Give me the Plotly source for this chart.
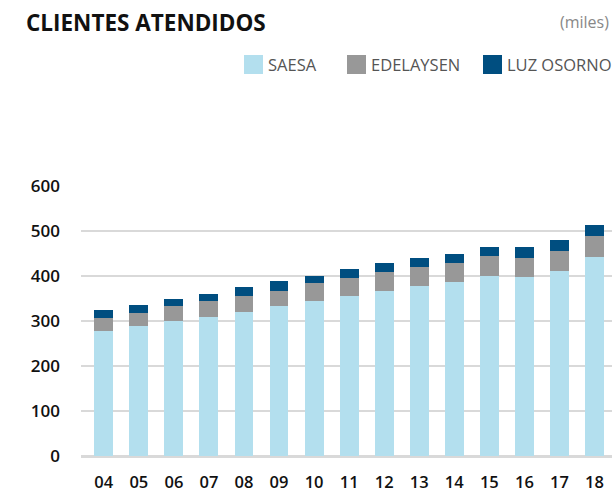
import plotly.graph_objects as go

years = ["04", "05", "06", "07", "08", "09", "10", "11", "12", "13", "14", "15", "16", "17", "18"]
saesa = [278, 289, 299, 310, 319, 333, 344, 355, 366, 377, 387, 400, 398, 411, 442]
edelaysen = [29, 29, 34, 34, 36, 33, 40, 40, 42, 42, 42, 44, 42, 45, 47]
luz_osorno = [17, 18, 17, 17, 20, 22, 17, 20, 20, 21, 20, 20, 24, 24, 24]
y_ticks = [0, 100, 200, 300, 400, 500, 600]

series_names = ["SAESA", "EDELAYSEN", "LUZ OSORNO"]
series_colors = ["#b3dfee", "#989898", "#004e80"]
series_values = [saesa, edelaysen, luz_osorno]

W, H = 612, 492
ML, MR, MT, MB = 81, 0, 186, 36
PW, PH = W - ML - MR, H - MT - MB


def px(x):
    return (x - ML) / PW


def py(y):
    return (H - MB - y) / PH


fig = go.Figure()
for name, vals, color in zip(series_names, series_values, series_colors):
    fig.add_trace(go.Bar(x=list(range(len(years))), y=vals, name=name,
                         marker=dict(color=color, line=dict(width=0)), width=0.54,
                         showlegend=False))

# custom legend (swatches + labels)
shapes = []
annotations = []
legend_x = [244, 347, 483]
for lx, name, color in zip(legend_x, series_names, series_colors):
    shapes.append(dict(type="rect", xref="paper", yref="paper",
                       x0=px(lx), x1=px(lx + 19), y0=py(74), y1=py(55),
                       fillcolor=color, line=dict(width=0)))
    annotations.append(dict(text=name, xref="paper", yref="paper",
                            x=px(lx + 22), y=py(65), xanchor="left", yanchor="middle",
                            showarrow=False,
                            font=dict(family="Open Sans", size=16.5, color="#555555")))

annotations.append(dict(text="CLIENTES ATENDIDOS", xref="paper", yref="paper",
                        x=px(24), y=py(22), xanchor="left", yanchor="middle",
                        showarrow=False,
                        font=dict(family="Open Sans", size=22.5, color="#111111", weight=700)))
annotations.append(dict(text="(miles)", xref="paper", yref="paper",
                        x=px(611), y=py(22), xanchor="right", yanchor="middle",
                        showarrow=False,
                        font=dict(family="Open Sans", size=16, color="#888888")))

fig.update_layout(
    barmode="stack",
    width=W, height=H,
    margin=dict(l=ML, r=MR, t=MT, b=MB, autoexpand=False),
    paper_bgcolor="white", plot_bgcolor="white",
    font=dict(family="Open Sans", color="#111111"),
    showlegend=False,
    xaxis=dict(tickmode="array", tickvals=list(range(len(years))), ticktext=years,
               range=[-0.65, 14.5], showgrid=False, zeroline=False, showline=False,
               ticks="", tickfont=dict(size=16.5, color="#111111", weight=600),
               ticklabelstandoff=14),
    yaxis=dict(tickmode="array", tickvals=y_ticks, range=[0, 600],
               showgrid=True, gridcolor="#d9d9d9", gridwidth=2,
               zeroline=True, zerolinecolor="#d9d9d9", zerolinewidth=3,
               showline=False, ticks="",
               tickfont=dict(size=17, color="#111111", weight=600),
               ticklabelstandoff=20),
    shapes=shapes,
    annotations=annotations,
)

fig.write_html("out.html", config={"displayModeBar": False},
               post_script="document.body.style.margin='0';document.body.style.overflow='hidden';")
